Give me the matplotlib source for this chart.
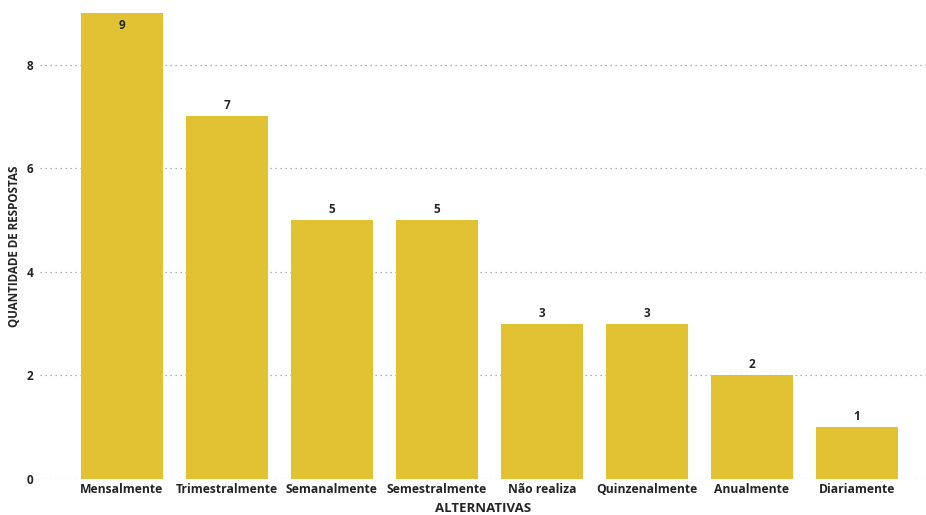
import matplotlib
matplotlib.use('Agg')
import matplotlib.pyplot as plt

categorias = ['Mensalmente', 'Trimestralmente', 'Semanalmente', 'Semestralmente',
              'Não realiza', 'Quinzenalmente', 'Anualmente', 'Diariamente']
respostas = [9, 7, 5, 5, 3, 3, 2, 1]
yticks = [0, 2, 4, 6, 8]

plt.rcParams['font.family'] = ['Open Sans', 'DejaVu Sans']

fig = plt.figure(figsize=(9.26, 5.15), dpi=100)
ax = fig.add_axes([0.0432, 0.0699, 0.9568, 0.905])

x = list(range(len(categorias)))
bars = ax.bar(x, respostas, width=0.78, color='#E0C232', zorder=2)

ax.set_xlim(-0.78, 7.66)
ax.set_ylim(0, 9)

# value labels: top bar label sits inside, others above
for xi, v in zip(x, respostas):
    if v == max(respostas):
        ax.text(xi, v - 0.12, str(v), ha='center', va='top', fontsize=8.5,
                fontweight='bold', color='#252423')
    else:
        ax.text(xi, v + 0.08, str(v), ha='center', va='bottom', fontsize=8.5,
                fontweight='bold', color='#252423')

ax.set_yticks(yticks)
ax.set_yticklabels([str(t) for t in yticks], fontsize=8.5, fontweight='bold', color='#252423')
ax.set_xticks(x)
ax.set_xticklabels(categorias, fontsize=8.7, fontweight='bold', color='#252423')
ax.tick_params(axis='both', length=0)
ax.tick_params(axis='y', pad=5)
ax.tick_params(axis='x', pad=3)

ax.grid(axis='y', linestyle=(0, (1, 3)), color='#999999', linewidth=0.9, zorder=0)
for s in ax.spines.values():
    s.set_visible(False)

ax.set_xlabel('ALTERNATIVAS', fontsize=9.5, fontweight='bold', color='#252423', labelpad=4)
ax.set_ylabel('QUANTIDADE DE RESPOSTAS', fontsize=8.4, fontweight='bold', color='#252423', labelpad=4)

fig.savefig('out.png', dpi=100)
